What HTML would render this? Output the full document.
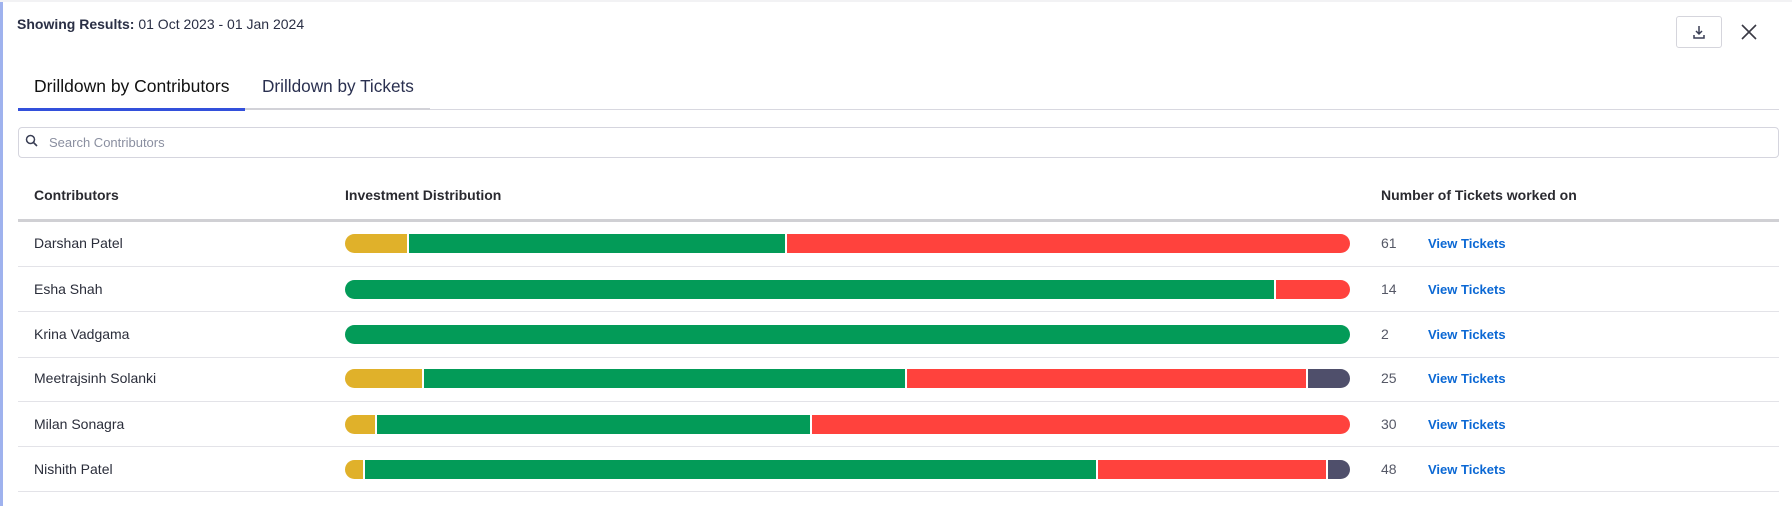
<!DOCTYPE html>
<html><head><style>
*{margin:0;padding:0;box-sizing:border-box}
body{width:1792px;height:506px;background:#fff;font-family:"Liberation Sans",sans-serif;color:#22222a;position:relative;overflow:hidden}
.a{position:absolute;white-space:nowrap}
.bar{position:absolute;left:345px;width:1005px;height:19px;border-radius:10px;overflow:hidden;display:flex}
.bar div{height:100%;margin-right:2px}
.bar div:last-child{margin-right:0}
.y{background:#e0b12a}.g{background:#039b58}.r{background:#ff423d}.d{background:#4f4f6b}
.sep{position:absolute;left:18px;width:1761px;height:1px;background:#e3e3e8}
.nm{font-size:14px;color:#2a2d3a}
.ct{font-size:14px;color:#555866}
.lk{font-size:13px;color:#0b68d4;font-weight:bold}
</style></head><body>
<div class="a" style="left:0;top:0;width:3px;height:506px;background:#9fb2ee"></div>
<div class="a" style="left:0;top:0;width:1792px;height:2px;background:#f2f2f4"></div>
<div class="a" style="left:17px;top:16px;font-size:14px;color:#2a2f45"><b>Showing Results:</b> 01 Oct 2023 - 01 Jan 2024</div>
<div class="a" style="left:1676px;top:16px;width:46px;height:32px;border:1px solid #d5d5dc;border-radius:3px">
<svg width="46" height="32" style="position:absolute;left:-1px;top:-1px"><path d="M23 10v8M20 15l3 3 3-3M18 19v3h10v-3" stroke="#3a3f55" stroke-width="1.5" fill="none"/></svg></div>
<svg class="a" style="left:1740px;top:23px" width="18" height="18"><path d="M2 2L16 16M16 2L2 16" stroke="#3a3a45" stroke-width="1.6"/></svg>
<div class="a" style="left:34px;top:76px;font-size:17.5px;color:#111">Drilldown by Contributors</div>
<div class="a" style="left:262px;top:76px;font-size:17.2px;color:#2a3050">Drilldown by Tickets</div>
<div class="a" style="left:18px;top:109px;width:1761px;height:1px;background:#d8d8e0"></div>
<div class="a" style="left:245px;top:108px;width:185px;height:2px;background:#d2d2d8"></div>
<div class="a" style="left:18px;top:108px;width:227px;height:3px;background:#3350db"></div>
<div class="a" style="left:18px;top:127px;width:1761px;height:31px;border:1px solid #d5d5de;border-radius:4px"></div>
<svg class="a" style="left:25px;top:134px" width="14" height="14"><circle cx="5.5" cy="5.5" r="4" stroke="#3a3f55" stroke-width="1.5" fill="none"/><path d="M8.5 8.5L12 12" stroke="#3a3f55" stroke-width="1.6"/></svg>
<div class="a" style="left:49px;top:135px;font-size:13px;color:#8a8fa0">Search Contributors</div>
<div class="a" style="left:34px;top:187px;font-size:14px;font-weight:bold;color:#2a2a30">Contributors</div>
<div class="a" style="left:345px;top:187px;font-size:14px;font-weight:bold;color:#2a2a30">Investment Distribution</div>
<div class="a" style="left:1381px;top:187px;font-size:14px;font-weight:bold;color:#2a2a30">Number of Tickets worked on</div>
<div class="a" style="left:18px;top:219px;width:1761px;height:3px;background:#d0d0d4"></div>

<div class="a nm" style="left:34px;top:235px">Darshan Patel</div>
<div class="bar" style="top:234px"><div class="y" style="width:62px"></div><div class="g" style="width:376px"></div><div class="r" style="flex:1"></div></div>
<div class="a ct" style="left:1381px;top:235px">61</div><div class="a lk" style="left:1428px;top:236px">View Tickets</div>
<div class="sep" style="top:266px"></div>

<div class="a nm" style="left:34px;top:281px">Esha Shah</div>
<div class="bar" style="top:280px"><div class="g" style="width:929px"></div><div class="r" style="flex:1"></div></div>
<div class="a ct" style="left:1381px;top:281px">14</div><div class="a lk" style="left:1428px;top:282px">View Tickets</div>
<div class="sep" style="top:311px"></div>

<div class="a nm" style="left:34px;top:326px">Krina Vadgama</div>
<div class="bar" style="top:325px"><div class="g" style="flex:1"></div></div>
<div class="a ct" style="left:1381px;top:326px">2</div><div class="a lk" style="left:1428px;top:327px">View Tickets</div>
<div class="sep" style="top:357px"></div>

<div class="a nm" style="left:34px;top:370px">Meetrajsinh Solanki</div>
<div class="bar" style="top:369px"><div class="y" style="width:77px"></div><div class="g" style="width:481px"></div><div class="r" style="width:399px"></div><div class="d" style="flex:1"></div></div>
<div class="a ct" style="left:1381px;top:370px">25</div><div class="a lk" style="left:1428px;top:371px">View Tickets</div>
<div class="sep" style="top:401px"></div>

<div class="a nm" style="left:34px;top:416px">Milan Sonagra</div>
<div class="bar" style="top:415px"><div class="y" style="width:30px"></div><div class="g" style="width:433px"></div><div class="r" style="flex:1"></div></div>
<div class="a ct" style="left:1381px;top:416px">30</div><div class="a lk" style="left:1428px;top:417px">View Tickets</div>
<div class="sep" style="top:446px"></div>

<div class="a nm" style="left:34px;top:461px">Nishith Patel</div>
<div class="bar" style="top:460px"><div class="y" style="width:18px"></div><div class="g" style="width:731px"></div><div class="r" style="width:228px"></div><div class="d" style="flex:1"></div></div>
<div class="a ct" style="left:1381px;top:461px">48</div><div class="a lk" style="left:1428px;top:462px">View Tickets</div>
<div class="sep" style="top:491px"></div>
</body></html>
